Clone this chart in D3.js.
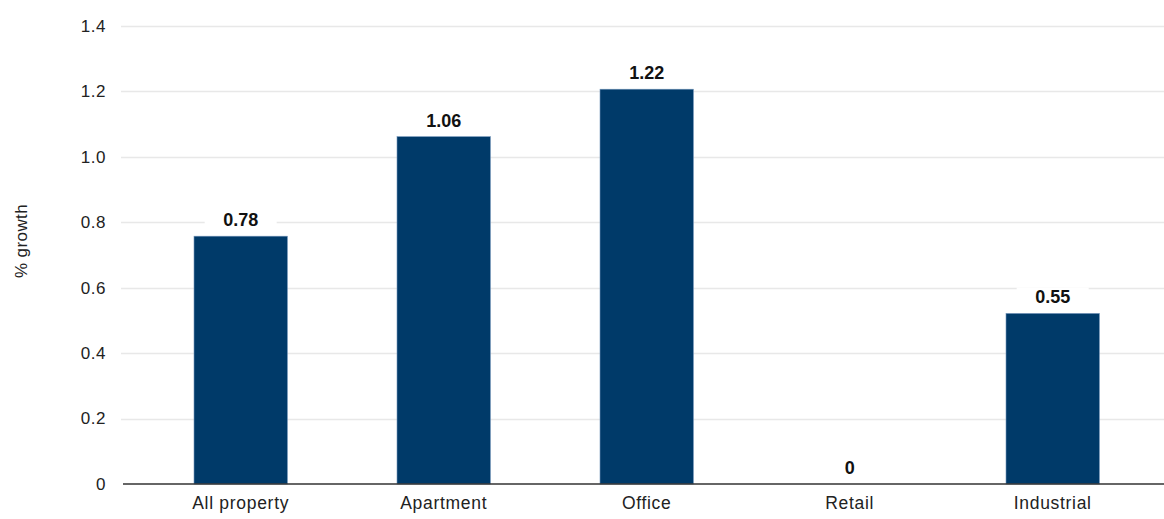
<!DOCTYPE html>
<html>
<head>
<meta charset="utf-8">
<script src="https://cdn.jsdelivr.net/npm/d3@7"></script>
<style>
	body { margin: 0; background: #fff; }
	svg text { font-family: "Liberation Sans", Arial, sans-serif; }
</style>
</head>
<body>
<svg id="chart" width="1164" height="519"></svg>
<script>
// data
const categories = ["All property", "Apartment", "Office", "Retail", "Industrial"];
const growth = [0.757, 1.061, 1.206, 0, 0.521];      // bar heights as drawn
const valueLabels = ["0.78", "1.06", "1.22", "0", "0.55"]; // printed labels
const yTicks = [0, 0.2, 0.4, 0.6, 0.8, 1.0, 1.2, 1.4];
const yTickText = ["0", "0.2", "0.4", "0.6", "0.8", "1.0", "1.2", "1.4"];

const barclr = "#003a69";
const gridclr = "#e8e8e8";
const txtclr = "#222";

const svg = d3.select("#chart");

const y = d3.scaleLinear().domain([0, 1.4]).range([484, 25.7]);
const x = d3.scaleBand()
	.domain(categories)
	.range([139.2, 1154.2])
	.paddingInner(0.54)
	.paddingOuter(0.27);

// grid lines
svg.append("g")
	.selectAll("line")
	.data(yTicks.slice(1))
	.join("line")
	.attr("x1", 121).attr("x2", 1164)
	.attr("y1", d => Math.round(y(d)) + 0.5)
	.attr("y2", d => Math.round(y(d)) + 0.5)
	.attr("stroke", gridclr)
	.attr("stroke-width", 1.5);

// y tick labels
svg.append("g")
	.selectAll("text")
	.data(yTicks)
	.join("text")
	.attr("x", 106)
	.attr("y", d => y(d))
	.attr("dy", "0.35em")
	.attr("text-anchor", "end")
	.attr("font-size", 17)
	.attr("letter-spacing", 0.5)
	.attr("fill", txtclr)
	.text((d, i) => yTickText[i]);

// bars
svg.append("g")
	.selectAll("rect")
	.data(categories)
	.join("rect")
	.attr("x", d => x(d))
	.attr("width", x.bandwidth())
	.attr("y", (d, i) => y(growth[i]))
	.attr("height", (d, i) => y(0) - y(growth[i]))
	.attr("fill", barclr)
	.attr("stroke", "#6f92b8")
	.attr("stroke-width", 0.6);

// value labels with white backing that cuts the grid line
const lab = svg.append("g")
	.selectAll("g")
	.data(categories)
	.join("g")
	.attr("transform", (d, i) => `translate(${x(d) + x.bandwidth() / 2},${y(growth[i]) - 10})`);
lab.append("rect")
	.attr("x", -36).attr("y", -16)
	.attr("width", 72).attr("height", 20)
	.attr("fill", "#fff");
lab.append("text")
	.attr("text-anchor", "middle")
	.attr("font-size", 18)
	.attr("font-weight", "bold")
	.attr("fill", "#111")
	.text((d, i) => valueLabels[i]);

// baseline
svg.append("line")
	.attr("x1", 123).attr("x2", 1164)
	.attr("y1", y(0)).attr("y2", y(0))
	.attr("stroke", "#333")
	.attr("stroke-width", 1.6);

// x axis labels
const xAxis = svg.append("g")
	.attr("transform", `translate(0,${y(0)})`)
	.call(d3.axisBottom(x).tickSize(0).tickPadding(13));
xAxis.select(".domain").remove();
xAxis.selectAll("text")
	.attr("font-size", 17.5)
	.attr("letter-spacing", 0.7)
	.attr("font-family", "Liberation Sans, Arial, sans-serif")
	.attr("fill", txtclr);

// y axis title
svg.append("text")
	.attr("transform", "translate(27,241) rotate(-90)")
	.attr("text-anchor", "middle")
	.attr("font-size", 17)
	.attr("letter-spacing", 0.4)
	.attr("fill", txtclr)
	.text("% growth");
</script>
</body>
</html>
